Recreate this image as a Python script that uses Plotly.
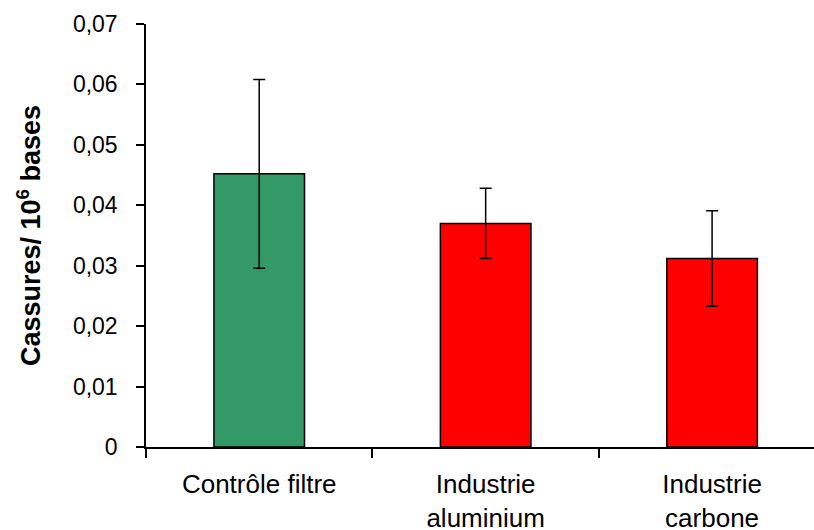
import plotly.graph_objects as go

categories = ["Contrôle filtre", "Industrie<br>aluminium", "Industrie<br>carbone"]
values = [0.0452, 0.0370, 0.0312]
errors = [0.0156, 0.0058, 0.0079]
colors = ["#339966", "#FF0000", "#FF0000"]
y_ticks = [0, 0.01, 0.02, 0.03, 0.04, 0.05, 0.06, 0.07]
y_tick_labels = ["0", "0,01", "0,02", "0,03", "0,04", "0,05", "0,06", "0,07"]

fig = go.Figure()
fig.add_trace(go.Bar(
    x=categories, y=values, width=0.4,
    marker=dict(color=colors, line=dict(color="black", width=1.5)),
    error_y=dict(type="data", array=errors, visible=True, color="black", thickness=1.5, width=6),
    showlegend=False,
))

font = "Liberation Sans, Arial, sans-serif"
fig.update_layout(
    width=814, height=530,
    margin=dict(l=146, r=0, t=24, b=83),
    paper_bgcolor="white", plot_bgcolor="white",
    font=dict(family=font, color="black"),
    xaxis=dict(
        type="category", range=[-0.5, 2.45],
        showline=True, linecolor="black", linewidth=1.5,
        ticks="outside", ticklen=9, tickwidth=1.5, tickcolor="black",
        tickson="boundaries", showgrid=False, automargin=False,
        tickfont=dict(size=26, family=font),
        ticklabelstandoff=13,
    ),
    yaxis=dict(
        range=[0, 0.07], tickvals=y_ticks, ticktext=y_tick_labels,
        showline=True, linecolor="black", linewidth=1.5,
        ticks="outside", ticklen=8, tickwidth=1.5, tickcolor="black",
        showgrid=False, zeroline=False, automargin=False,
        tickfont=dict(size=23, family=font),
        ticklabelstandoff=14,
        title=dict(text="<b>Cassures/ 10<sup>6</sup> bases</b>", font=dict(size=27, family=font), standoff=24),
    ),
)

fig.write_html(
    "out.html",
    config={"displayModeBar": False},
    post_script="document.body.style.margin='0';document.body.style.overflow='hidden';",
)
